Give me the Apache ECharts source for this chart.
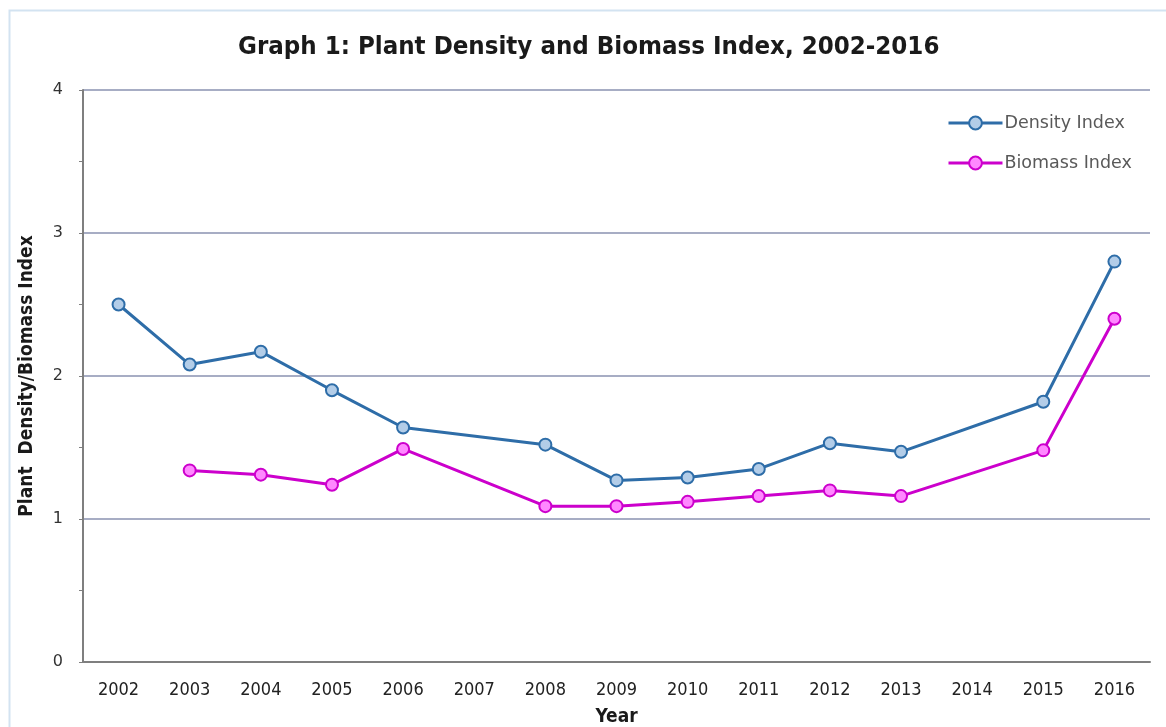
<!DOCTYPE html>
<html>
<head>
<meta charset="utf-8">
<script src="https://cdn.jsdelivr.net/npm/echarts@6/dist/echarts.min.js"></script>
<style>
html,body{margin:0;padding:0;background:#fff;}
#c{width:1166px;height:727px;}
</style>
</head>
<body>
<div id="c"></div>
<script>
const years = ['2002','2003','2004','2005','2006','2007','2008','2009','2010','2011','2012','2013','2014','2015','2016'];
const densityIndex = [2.50, 2.08, 2.17, 1.90, 1.64, null, 1.52, 1.27, 1.29, 1.35, 1.53, 1.47, null, 1.82, 2.80];
const biomassIndex = [null, 1.34, 1.31, 1.24, 1.49, null, 1.09, 1.09, 1.12, 1.16, 1.20, 1.16, null, 1.48, 2.40];
const seriesNames = ['Density Index', 'Biomass Index'];
const titleText = 'Graph 1: Plant Density and Biomass Index, 2002-2016';
const narrow = '"Liberation Sans Narrow", "DejaVu Sans Condensed", "Noto Sans", sans-serif';

const chart = echarts.init(document.getElementById('c'));
chart.setOption({
  animation: false,
  backgroundColor: '#fff',
  graphic: [{
    type: 'rect', left: 7, top: 8, z: -1,
    shape: {x: 0, y: 0, width: 1170, height: 730},
    style: {fill: 'none', stroke: '#d3e3f1', lineWidth: 2}
  }],
  title: {
    text: titleText, left: 233, top: 29, padding: 5,
    textStyle: {fontFamily: narrow, fontWeight: 'bold', fontSize: 25.6, color: '#1a1a1a'}
  },
  legend: {
    orient: 'vertical', left: 947, top: 114, itemGap: 22, padding: 0,
    itemWidth: 54, itemHeight: 16,
    data: seriesNames,
    lineStyle: {width: 3},
    textStyle: {fontFamily: '"DejaVu Sans", Verdana, sans-serif', fontSize: 17.5, color: '#595959', padding: [0,0,0,-3]}
  },
  grid: {left: 83, right: 16, top: 90, bottom: 65, containLabel: false, outerBoundsMode: 'none'},
  xAxis: {
    type: 'category', data: years, boundaryGap: true,
    name: 'Year', nameLocation: 'middle', nameGap: 46,
    nameTextStyle: {fontFamily: narrow, fontWeight: 'bold', fontSize: 19, color: '#1a1a1a'},
    axisLine: {lineStyle: {color: '#7f7f7f', width: 2}},
    axisTick: {show: false},
    axisLabel: {fontFamily: narrow, fontSize: 18, color: '#222', margin: 19}
  },
  yAxis: {
    type: 'value', min: 0, max: 4, interval: 1,
    name: 'Plant  Density/Biomass Index', nameLocation: 'middle', nameGap: 46, nameRotate: 90,
    nameTextStyle: {fontFamily: narrow, fontWeight: 'bold', fontSize: 19, color: '#1a1a1a'},
    axisLine: {show: true, lineStyle: {color: '#7f7f7f', width: 2}},
    axisTick: {show: true, length: 4, lineStyle: {color: '#7f7f7f'}},
    minorTick: {show: true, splitNumber: 2, length: 4, lineStyle: {color: '#7f7f7f'}},
    axisLabel: {fontFamily: '"DejaVu Sans", Verdana, sans-serif', fontSize: 16, color: '#333', margin: 20},
    splitLine: {show: true, lineStyle: {color: '#a7adc4', width: 2}}
  },
  series: [
    {
      name: seriesNames[0], type: 'line', data: densityIndex, connectNulls: true,
      symbol: 'circle', symbolSize: 12,
      lineStyle: {color: '#2e6da8', width: 3},
      itemStyle: {color: '#b3cde8', borderColor: '#2e6da8', borderWidth: 2}
    },
    {
      name: seriesNames[1], type: 'line', data: biomassIndex, connectNulls: true,
      symbol: 'circle', symbolSize: 12,
      lineStyle: {color: '#cc00cc', width: 3},
      itemStyle: {color: '#ff88ff', borderColor: '#cc00cc', borderWidth: 2}
    }
  ]
});
</script>
</body>
</html>
